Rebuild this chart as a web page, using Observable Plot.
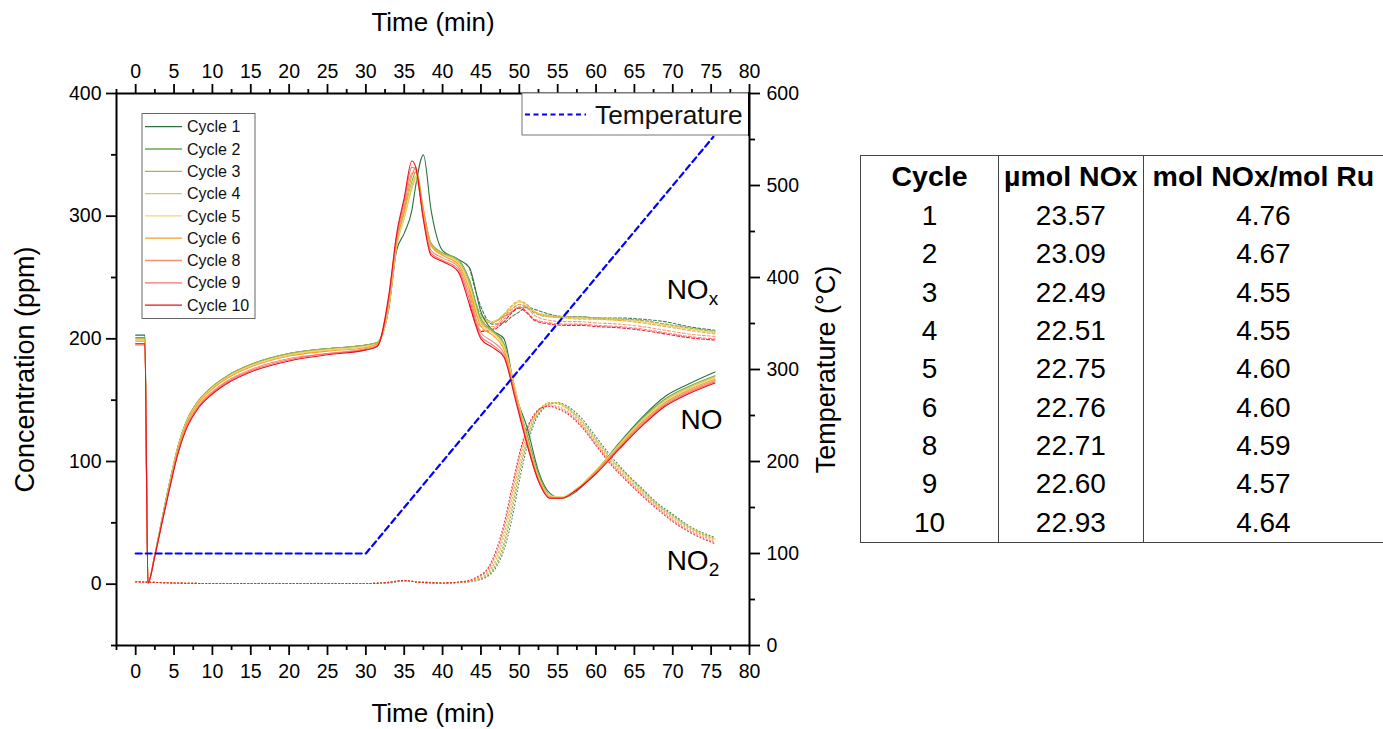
<!DOCTYPE html>
<html><head><meta charset="utf-8">
<script src="https://cdn.jsdelivr.net/npm/d3@7"></script>
<script src="https://cdn.jsdelivr.net/npm/@observablehq/plot@0.6"></script>
<style>
html,body{margin:0;padding:0;background:#fff;overflow:hidden;}
#wrap{position:relative;width:1383px;height:729px;overflow:hidden;font-family:"Liberation Sans",Arial,sans-serif;}
#wrap > svg{position:absolute;left:0;top:0;}
.tbl{position:absolute;left:860px;top:155px;border-collapse:collapse;font-size:28px;line-height:1;border:1.5px solid #444;border-right:none;table-layout:fixed;}
.tbl th,.tbl td{padding:0;text-align:center;border-left:1.5px solid #444;white-space:nowrap;overflow:visible;}
.tbl th{height:41px;font-weight:bold;font-size:28.5px;}
.tbl td{height:38.3px;}
</style>
</head><body><div id="wrap"></div>
<script>
// ---------- data ----------
const cycleNames = ["Cycle 1","Cycle 2","Cycle 3","Cycle 4","Cycle 5","Cycle 6","Cycle 8","Cycle 9","Cycle 10"];
const cycleColors = ["#2e7040","#6aa84f","#a8b44a","#d8cc50","#f0d878","#f5a020","#f59070","#f87070","#e8101e"];

// NO (solid lines), ppm
const timeNO = [0,1.2,1.6,2.5,3.5,4.5,5.5,6.5,8,10,12,15,20,25,30,31.5,33,34,35,36,36.5,37.5,38.5,40,42,43.5,45,46.5,48,49.5,51,52.5,54,55.5,57.5,60,63,66,69,72,75.5];
const noValues = [
  [203,203,1,24,55,85,112,131,148,161,170,179,188,192,195,197,225,272,286,305,325,350,305,272,265,258,222,207,200,155,128,92,74,70,76,92,115,136,153,163,173],
  [201,201,1,24,55,85,112,131,148,161,170,179,188,192,195,197,230,278,302,328,336,305,278,270,265,248,216,207,196,156,122,90,72,70,77,92,114,135,151,161,170],
  [200,200,1,24,55,85,112,131,148,161,170,179,188,192,195,197,228,276,300,325,332,303,277,270,264,246,214,206,195,158,120,88,71,70,77,92,113,134,150,160,169],
  [199,199,1,24,54,84,111,130,147,160,169,178,187,191,194,196,226,275,298,322,330,302,276,269,263,244,213,205,194,158,119,87,72,71,78,93,114,134,150,160,169],
  [198,198,1,24,54,84,111,130,147,160,169,178,187,191,194,196,228,277,300,326,333,302,276,268,262,242,212,205,193,157,118,87,72,71,78,92,113,133,149,159,168],
  [198,198,1,24,54,83,110,129,146,159,168,177,186,190,193,196,230,279,305,333,340,306,276,268,261,240,210,203,191,155,117,86,71,70,77,92,112,132,148,158,167],
  [196,196,1,23,53,82,108,127,144,157,166,175,184,188,192,195,232,281,308,335,336,300,272,266,259,236,205,198,188,154,116,85,71,70,77,91,111,131,147,157,166],
  [195,195,1,23,52,81,107,126,143,156,165,174,183,188,191,194,234,283,312,340,338,298,270,264,257,232,202,195,186,152,115,84,70,70,77,91,111,130,146,156,165],
  [196,196,1,23,52,80,106,125,142,155,164,173,182,187,191,194,236,285,315,345,340,297,268,263,255,228,200,193,185,150,114,84,70,70,77,90,110,129,145,155,164]
];

// NO2 (dotted lines), ppm
const timeNO2 = [0,5,10,20,30,33,35,37,40,43,44.5,46,47,48,49,50,51,52,53,54,55,56,58,60,62,64,66,68,70,72,75.5];
const no2Values = [
  [2,1,0.5,0.5,0.5,1,2.5,2,1,1.5,3,7,14,28,52,84,112,132,142,147,148,146,136,120,104,90,78,66,57,48,38],
  [2,1,0.5,0.5,0.5,1.5,3,1.5,1,2,3.5,8,16,32,58,90,116,134,143,147,148,145,134,118,102,89,77,65,56,47,37],
  [2,1,0.5,0.5,0.5,1.5,3,1.5,1,2,3.5,8,17,33,60,91,117,135,144,148,148,145,134,118,102,89,77,65,56,47,37],
  [2,1,0.5,0.5,0.5,1.5,3,1.5,1,2,4,9,19,36,63,94,119,136,145,148,148,145,134,118,102,89,76,65,55,47,37],
  [2,1,0.5,0.5,0.5,1.5,3,1.5,1,2,4,10,20,38,65,95,120,136,144,147,147,144,133,117,101,88,76,64,55,47,37],
  [2,1,0.5,0.5,0.5,1.5,3,1.5,1,2,4,10,21,40,68,98,122,137,145,148,147,144,132,116,100,87,75,64,54,46,36],
  [2,1,0.5,0.5,0.5,1.5,3,1.5,1,2,5,12,24,44,72,102,125,138,144,146,145,142,131,115,99,86,74,63,53,45,35],
  [2,1,0.5,0.5,0.5,1.5,3,1.5,1,2,5,13,26,46,75,104,126,138,144,145,144,141,130,114,98,85,73,62,52,44,34],
  [2,1,0.5,0.5,0.5,1.5,3,1.5,1,2.5,6,14,28,49,78,106,127,139,144,145,143,140,129,113,97,84,72,61,51,43,33]
];

// NOx (dashed lines), ppm
const timeNOx = [43.5,45,46.5,48,49,50,51,52,54,56,58,60,63,66,69,72,75.5];
const noxValues = [
  [258,226,212,213,218,222,226,224,220,218,218,217,217,216,214,210,207],
  [248,220,214,218,222,226,225,221,218,218,217,217,216,215,212,209,206],
  [246,218,214,219,224,228,226,222,219,218,218,217,216,215,212,209,206],
  [244,217,214,220,226,230,227,222,219,218,217,217,216,214,211,208,205],
  [242,216,214,220,226,230,227,222,218,217,217,216,215,214,211,208,205],
  [240,214,213,220,227,231,228,222,218,217,216,216,215,213,210,207,204],
  [236,210,210,218,224,228,225,219,215,214,214,213,212,210,207,204,202],
  [232,207,208,216,222,226,222,216,213,212,212,211,210,208,205,202,200],
  [228,206,207,214,221,225,221,215,212,211,211,210,209,207,204,201,199]
];

// Temperature (°C)
const timeTemp = [0,30,75.3];
const tempValues = [100,100,553];

// Axis ticks
const xMajor = [0,5,10,15,20,25,30,35,40,45,50,55,60,65,70,75,80];
const xMinor = [-2.5,2.5,7.5,12.5,17.5,22.5,27.5,32.5,37.5,42.5,47.5,52.5,57.5,62.5,67.5,72.5,77.5];
const yMajor = [0,100,200,300,400];
const yMinor = [-50,50,150,250,350];
const tMajor = [0,100,200,300,400,500,600];
const tMinor = [50,150,250,350,450,550];

// Table
const tableHeader = ["Cycle","µmol NOx","mol NOx/mol Ru"];
const tableCycle = ["1","2","3","4","5","6","8","9","10"];
const tableUmol = ["23.57","23.09","22.49","22.51","22.75","22.76","22.71","22.60","22.93"];
const tableRatio = ["4.76","4.67","4.55","4.55","4.60","4.60","4.59","4.57","4.64"];

// ---------- build ----------
const FONT = '"Liberation Sans", Arial, sans-serif';
const tempToConc = T => -50 + T * 450 / 600;
const concToTemp = c => (c + 50) * 600 / 450;

function rows(times, values) {
  const out = [];
  cycleNames.forEach((c, i) => times.forEach((t, j) => out.push({cycle: c, t, v: values[i][j]})));
  return out;
}
const noRows = rows(timeNO, noValues);
const no2Rows = rows(timeNO2, no2Values);
const noxRows = rows(timeNOx, noxValues);
const tempRows = timeTemp.map((t, i) => ({t, T: tempValues[i]}));

const labels = [
  {t: 69.2, y: 240, s: "NO", sub: "x"},
  {t: 71.0, y: 134, s: "NO", sub: ""},
  {t: 69.2, y: 19, s: "NO", sub: "2"}
];

const axisCommon = {label: null, strokeWidth: 1.8, fontSize: 19.5};

const chart = Plot.plot({
  width: 1383, height: 729,
  marginLeft: 116, marginRight: 634, marginTop: 93, marginBottom: 84,
  style: {fontFamily: FONT, fontSize: "19.5px", color: "black", background: "transparent"},
  x: {domain: [-2.5, 80]},
  y: {domain: [-50, 400]},
  color: {domain: cycleNames, range: cycleColors},
  marks: [
    Plot.line(no2Rows, {x: "t", y: "v", z: "cycle", stroke: "cycle", strokeWidth: 1.1, strokeOpacity: 0.85, strokeDasharray: "1,2.5", curve: "monotone-x"}),
    Plot.line(noxRows, {x: "t", y: "v", z: "cycle", stroke: "cycle", strokeWidth: 1.1, strokeOpacity: 0.9, strokeDasharray: "3,2", curve: "monotone-x"}),
    Plot.line(noRows, {x: "t", y: "v", z: "cycle", stroke: "cycle", strokeWidth: 1.1, curve: "monotone-x"}),
    Plot.line(tempRows, {x: "t", y: d => tempToConc(d.T), stroke: "#0000ff", strokeWidth: 2.2, strokeDasharray: "6,4"}),
    Plot.frame({stroke: "black", strokeWidth: 2}),
    Plot.axisX({...axisCommon, anchor: "bottom", ticks: xMajor, tickSize: 10, tickPadding: 9}),
    Plot.axisX({...axisCommon, anchor: "bottom", ticks: xMinor, tickSize: 5, tickFormat: () => ""}),
    Plot.axisX({...axisCommon, anchor: "top", ticks: xMajor, tickSize: 10, tickPadding: 6}),
    Plot.axisX({...axisCommon, anchor: "top", ticks: xMinor, tickSize: 5, tickFormat: () => ""}),
    Plot.axisY({...axisCommon, anchor: "left", ticks: yMajor, tickSize: 10, tickPadding: 5}),
    Plot.axisY({...axisCommon, anchor: "left", ticks: yMinor, tickSize: 5, tickFormat: () => ""}),
    Plot.axisY({...axisCommon, anchor: "right", ticks: tMajor.map(tempToConc), tickSize: 10, tickPadding: 7, tickFormat: d => String(Math.round(concToTemp(d)))}),
    Plot.axisY({...axisCommon, anchor: "right", ticks: tMinor.map(tempToConc), tickSize: 5, tickFormat: () => ""}),
    Plot.text(["Time (min)"], {text: d => d, frameAnchor: "bottom", lineAnchor: "middle", dy: 68, fontSize: 26}),
    Plot.text(["Time (min)"], {text: d => d, frameAnchor: "top", lineAnchor: "middle", dy: -71, fontSize: 26}),
    Plot.text(["Concentration (ppm)"], {text: d => d, frameAnchor: "left", textAnchor: "middle", lineAnchor: "middle", dx: -91, rotate: -90, fontSize: 27}),
    Plot.text(["Temperature (°C)"], {text: d => d, frameAnchor: "right", textAnchor: "middle", lineAnchor: "middle", dx: 77, rotate: -90, fontSize: 27}),
    Plot.text(labels, {x: "t", y: "y", text: "s", textAnchor: "start", fontSize: 28}),
    Plot.text(labels, {x: "t", y: "y", text: "sub", textAnchor: "start", fontSize: 19, dx: 42, dy: 9})
  ]
});
document.getElementById("wrap").appendChild(chart);

// ---------- legends (overlay) ----------
const ov = d3.select("#wrap").append("svg")
  .attr("width", 1383).attr("height", 729)
  .style("position", "absolute").style("left", 0).style("top", 0)
  .style("pointer-events", "none")
  .style("font-family", FONT);

// cycle legend
ov.append("rect").attr("x", 142).attr("y", 113.5).attr("width", 113).attr("height", 205)
  .attr("fill", "white").attr("stroke", "#666").attr("stroke-width", 1);
cycleNames.forEach((c, i) => {
  const y = 126.7 + i * 22.3;
  ov.append("line").attr("x1", 145).attr("x2", 182).attr("y1", y).attr("y2", y)
    .attr("stroke", cycleColors[i]).attr("stroke-width", 1.3);
  ov.append("text").attr("x", 187).attr("y", y).attr("dy", "0.35em")
    .attr("font-size", 16).attr("fill", "#111").text(c);
});

// temperature legend
ov.append("rect").attr("x", 522).attr("y", 93).attr("width", 227).attr("height", 42)
  .attr("fill", "white").attr("stroke", "#777").attr("stroke-width", 1);
ov.append("line").attr("x1", 525).attr("x2", 586).attr("y1", 114.5).attr("y2", 114.5)
  .attr("stroke", "#0000ff").attr("stroke-width", 2).attr("stroke-dasharray", "5,3.5");
ov.append("text").attr("x", 595).attr("y", 114.5).attr("dy", "0.35em")
  .attr("font-size", 26.3).attr("fill", "#111").text("Temperature");
ov.append("line").attr("x1", 749).attr("x2", 749).attr("y1", 92).attr("y2", 136)
  .attr("stroke", "black").attr("stroke-width", 2);

// ---------- table ----------
const tbl = d3.select("#wrap").append("table").attr("class", "tbl");
const cg = tbl.append("colgroup");
[139, 145, 240].forEach(w => cg.append("col").style("width", w + "px"));
tbl.append("tr").selectAll("th").data(tableHeader).join("th").text(d => d);
tableCycle.forEach((c, i) => {
  const tr = tbl.append("tr");
  [c, tableUmol[i], tableRatio[i]].forEach(v => tr.append("td").text(v));
});
</script>
</body></html>
